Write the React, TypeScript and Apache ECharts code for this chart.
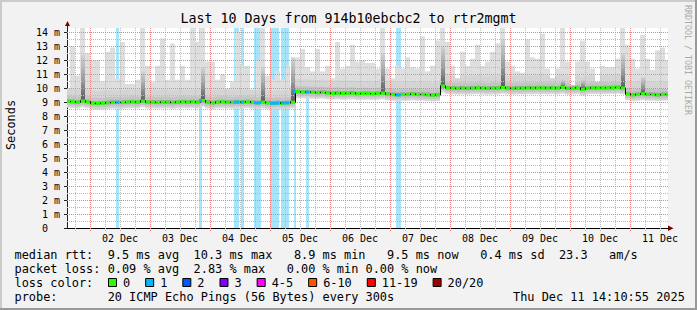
import React, { useEffect, useRef } from 'react';
import * as echarts from 'echarts';

// ---- time axis (hours since 01 Dec 00:00) ----
const START_HOUR = 14.8;
const END_HOUR = 255.2;
const FIRST_BUCKET_HOUR = 14;
const BUCKET_HOURS = 2;

// ---- median rtt per 2h bucket (ms) ----
const medianMs = [
  9.05, 9.03, 9.0, 9.08, 9.02, 8.92, 8.9, 8.92, 8.96, 8.98,
  8.98, 8.98, 9.0, 9.02, 9.0, 9.08, 9.0, 9.0, 8.98, 9.0,
  9.0, 8.97, 9.0, 9.02, 9.0, 9.02, 9.0, 9.12, 9.0, 8.95,
  9.0, 9.02, 9.0, 8.98, 9.0, 9.0, 9.02, 8.98, 8.95, 9.0,
  8.95, 8.92, 8.95, 8.92, 8.95, 9.0, 9.75, 9.72, 9.72, 9.7,
  9.68, 9.7, 9.66, 9.62, 9.65, 9.62, 9.63, 9.65, 9.6, 9.62,
  9.62, 9.6, 9.62, 9.65, 9.58, 9.55, 9.52, 9.55, 9.55, 9.58,
  9.55, 9.55, 9.53, 9.5, 9.52, 10.15, 10.02, 10.0, 9.98, 10.0,
  9.98, 10.0, 10.02, 10.0, 9.98, 10.0, 10.0, 10.05, 10.0, 9.98,
  10.0, 10.0, 10.02, 10.0, 10.02, 10.02, 10.0, 10.02, 10.0, 10.05,
  9.98, 10.0, 10.02, 9.92, 10.0, 10.02, 10.02, 10.02, 10.02, 10.03,
  10.05, 10.0, 9.58, 9.52, 9.55, 9.6, 9.55, 9.55, 9.52, 9.55,
  9.55,
];

// ---- top of the smoke (slowest ping) per bucket (ms) ----
const smokeTopMs = [
  10.0, 13.0, 10.9, 14.3, 12.5, 12.0, 12.0, 10.5, 12.6, 12.9,
  10.7, 13.3, 10.3, 10.3, 10.6, 14.3, 11.6, 10.45, 11.6, 13.55,
  10.6, 13.2, 10.6, 11.6, 10.6, 14.3, 13.3, 14.3, 11.9, 11.9,
  10.6, 11.0, 10.0, 10.5, 14.0, 11.6, 11.6, 9.9, 12.0, 14.3,
  10.9, 10.6, 11.2, 10.6, 11.6, 10.2, 12.2, 12.8, 11.5, 11.2,
  12.8, 11.2, 11.6, 10.7, 13.3, 11.4, 11.6, 13.1, 11.9, 12.0,
  11.8, 11.8, 11.4, 14.3, 11.4, 10.7, 11.6, 11.4, 12.2, 11.5,
  11.4, 13.7, 11.2, 11.6, 13.4, 14.3, 13.3, 11.6, 10.7, 12.6,
  11.6, 12.1, 13.1, 11.6, 11.9, 12.6, 13.2, 14.3, 11.9, 11.6,
  11.2, 11.1, 13.5, 12.2, 12.1, 13.9, 11.4, 10.7, 11.4, 14.3,
  11.9, 10.2, 11.9, 13.4, 11.9, 11.4, 10.45, 11.6, 11.5, 11.5,
  12.1, 14.3, 13.1, 12.1, 11.4, 13.8, 12.1, 11.3, 12.7, 12.9,
  12.0,
];

// ---- dense (dark) smoke bursts ----
const spikeBucket = [3, 15, 27, 39, 45, 63, 75, 87, 99, 103, 111, 115];
const spikeTopMs = [12.4, 11.2, 11.5, 11.5, 12.2, 12.5, 13.0, 13.5, 10.6, 10.6, 12.5, 10.8];

// ---- packet loss periods ----
const lossStartHour = [34.4, 67.6, 81.6, 84.4, 89.6, 96.0, 100.4, 105.6, 110.4, 146.4];
const lossEndHour = [35.6, 68.6, 83.6, 85.6, 92.4, 99.6, 103.6, 106.4, 111.6, 148.4];
const lossTopMs = [14.3, 14.3, 14.3, 14.3, 14.3, 14.3, 14.3, 9.8, 9.8, 14.3];
const lossPings = [1, 1, 1, 1, 1, 1, 1, 1, 1, 1];

// ---- axis labels ----
const dayLabels = ['02 Dec', '03 Dec', '04 Dec', '05 Dec', '06 Dec', '07 Dec', '08 Dec', '09 Dec', '10 Dec', '11 Dec'];
const dayLabelHours = [36, 60, 84, 108, 132, 156, 180, 204, 228, 252];
const yTickValues = [0, 1, 2, 3, 4, 5, 6, 7, 8, 9, 10, 11, 12, 13, 14];
const Y_MAX = 14.3;

// ---- legend ----
const lossColorLabels = ['0', '1', '2', '3', '4-5', '6-10', '11-19', '20/20'];
const lossColors = ['#26ff00', '#00b8ff', '#0059ff', '#7e00ff', '#ff00ff', '#ff5500', '#ff0000', '#a10000'];
const statLines = [
  'median rtt:  9.5 ms avg  10.3 ms max   8.9 ms min   9.5 ms now   0.4 ms sd  23.3   am/s',
  'packet loss: 0.09 % avg  2.83 % max   0.00 % min 0.00 % now',
  'loss color:',
  'probe:       20 ICMP Echo Pings (56 Bytes) every 300s',
];
const titleText = 'Last 10 Days from 914b10ebcbc2 to rtr2mgmt';
const dateText = 'Thu Dec 11 14:10:55 2025';

const MONO = '"DejaVu Sans Mono", monospace';
const LEG_FS = 11.9;
const CW = LEG_FS * 0.602;
const LEG_X0 = 14.5;
const LINE_Y = [254.5, 268.6, 282.7, 296.8];

function buildOption() {
  const bStart = (i: number) => FIRST_BUCKET_HOUR + i * BUCKET_HOURS;
  const smokeData = medianMs.map((m, i) => {
    const k = spikeBucket.indexOf(i);
    return [bStart(i), bStart(i) + BUCKET_HOURS, m, smokeTopMs[i], k >= 0 ? spikeTopMs[k] : 0];
  });
  const medianData = medianMs.map((m, i) => [bStart(i), bStart(i) + BUCKET_HOURS, m, i > 0 ? medianMs[i - 1] : m]);
  const lossData = lossStartHour.map((s, i) => {
    const mid = (s + lossEndHour[i]) / 2;
    const bi = Math.floor((mid - FIRST_BUCKET_HOUR) / BUCKET_HOURS);
    return [s, lossEndHour[i], lossTopMs[i], medianMs[bi], lossPings[i]];
  });
  const vGrid: number[][] = [];
  for (let h = 18; h <= 252; h += 6) vGrid.push([h, h % 24 === 0 ? 1 : 0]);
  const hGrid: number[][] = [];
  for (let v = 0.5; v <= 14; v += 0.5) hGrid.push([v, Number.isInteger(v) ? 1 : 0]);

  const crisp = (v: number) => Math.round(v) + 0.5;

  const graphic: any[] = [];
  // frame
  graphic.push({ type: 'rect', shape: { x: 0, y: 0, width: 697, height: 2 }, style: { fill: '#cbcbcb' }, silent: true });
  graphic.push({ type: 'rect', shape: { x: 0, y: 0, width: 2, height: 310 }, style: { fill: '#cbcbcb' }, silent: true });
  graphic.push({ type: 'rect', shape: { x: 0, y: 308, width: 697, height: 2 }, style: { fill: '#999999' }, silent: true });
  graphic.push({ type: 'rect', shape: { x: 695, y: 0, width: 2, height: 310 }, style: { fill: '#999999' }, silent: true });
  // arrows
  graphic.push({ type: 'line', shape: { x1: 67.5, y1: 29, x2: 67.5, y2: 24 }, style: { stroke: '#202020', lineWidth: 1 }, silent: true });
  graphic.push({ type: 'polygon', shape: { points: [[65, 26], [70, 26], [67.5, 21]] }, style: { fill: '#800000' }, silent: true });
  graphic.push({ type: 'polygon', shape: { points: [[668, 225.5], [668, 231], [673.5, 228.3]] }, style: { fill: '#800000' }, silent: true });
  // title
  graphic.push({ type: 'text', x: 348.5, y: 18.5, style: { text: titleText, fontFamily: MONO, fontSize: 13.3, fill: '#000', align: 'center', verticalAlign: 'middle' } });
  // y name
  graphic.push({ type: 'text', x: 11, y: 125, rotation: Math.PI / 2, style: { text: 'Seconds', fontFamily: MONO, fontSize: 11.9, fill: '#000', align: 'center', verticalAlign: 'middle' } });
  // watermark
  graphic.push({ type: 'text', x: 687.5, y: 60, rotation: -Math.PI / 2, style: { text: 'RRDTOOL / TOBI OETIKER', fontFamily: MONO, fontSize: 8.3, fill: '#a9a9a9', align: 'center', verticalAlign: 'middle' } });
  // legend lines, token by token in monospace columns
  statLines.forEach((line, li) => {
    const re = /\S+/g;
    let m: RegExpExecArray | null;
    while ((m = re.exec(line))) {
      graphic.push({ type: 'text', x: LEG_X0 + m.index * CW, y: LINE_Y[li], style: { text: m[0], fontFamily: MONO, fontSize: LEG_FS, fill: '#000', align: 'left', verticalAlign: 'middle' } });
    }
  });
  // loss colour boxes
  let bx = 108;
  lossColorLabels.forEach((lab, i) => {
    graphic.push({ type: 'rect', shape: { x: bx + 0.5, y: 278.5, width: 8, height: 8 }, style: { fill: lossColors[i], stroke: '#000', lineWidth: 1 } });
    graphic.push({ type: 'text', x: bx + 15, y: LINE_Y[2], style: { text: lab, fontFamily: MONO, fontSize: LEG_FS, fill: '#000', align: 'left', verticalAlign: 'middle' } });
    bx += 15 + lab.length * CW + 15;
  });
  graphic.push({ type: 'text', x: 513, y: LINE_Y[3], style: { text: dateText, fontFamily: MONO, fontSize: LEG_FS, fill: '#000', align: 'left', verticalAlign: 'middle' } });

  const smokeGradient = new echarts.graphic.LinearGradient(0, 0, 0, 1, [
    { offset: 0, color: '#d4d4d4' },
    { offset: 0.55, color: '#9a9a9a' },
    { offset: 1, color: '#5a5a5a' },
  ]);

  return {
    animation: false,
    backgroundColor: '#f2f2f2',
    grid: { left: 67, right: 29, top: 28, bottom: 82, show: true, backgroundColor: '#ffffff', borderWidth: 0 },
    xAxis: {
      type: 'value',
      min: START_HOUR,
      max: END_HOUR,
      axisLine: { show: true, lineStyle: { color: '#000', width: 1 } },
      axisTick: { show: false },
      splitLine: { show: false },
      axisLabel: {
        customValues: dayLabelHours,
        formatter: (v: number) => dayLabels[dayLabelHours.indexOf(Math.round(v))] ?? '',
        fontFamily: MONO,
        fontSize: 10,
        color: '#000',
        margin: 5,
      },
    },
    yAxis: {
      type: 'value',
      min: 0,
      max: Y_MAX,
      axisLine: { show: true, lineStyle: { color: '#202020', width: 1 } },
      axisTick: { show: true, customValues: yTickValues, length: 3, lineStyle: { color: '#202020' } },
      splitLine: { show: false },
      axisLabel: {
        customValues: yTickValues,
        formatter: (v: number) => (v === 0 ? '{z|0}' : `${v} m`),
        rich: { z: { fontFamily: MONO, fontSize: 10, color: '#000', padding: [0, 12, 0, 0] } },
        fontFamily: MONO,
        fontSize: 10,
        color: '#000',
        margin: 7,
      },
    },
    graphic,
    series: [
      {
        type: 'custom',
        name: 'loss',
        z: 1,
        clip: true,
        encode: { x: [0, 1], y: [2] },
        data: lossData,
        renderItem: (_p: any, api: any) => {
          const a = api.coord([api.value(0), api.value(2)]);
          const b = api.coord([api.value(1), 0]);
          return { type: 'rect', shape: { x: Math.round(a[0]), y: a[1], width: Math.round(b[0]) - Math.round(a[0]), height: b[1] - a[1] }, style: { fill: '#a6e4fb' } };
        },
      },
      {
        type: 'custom',
        name: 'smoke',
        z: 2,
        clip: true,
        encode: { x: [0, 1], y: [2, 3] },
        data: smokeData,
        renderItem: (_p: any, api: any) => {
          const x0 = api.value(0), x1 = api.value(1), med = api.value(2), hi = api.value(3), dk = api.value(4);
          const r = (lo: number, top: number, fill: any) => {
            const a = api.coord([x0, top]);
            const b = api.coord([x1, lo]);
            const xa = Math.round(a[0]);
            const xb = Math.round(b[0]);
            return { type: 'rect', shape: { x: xa, y: a[1], width: xb - xa, height: b[1] - a[1] }, style: { fill } };
          };
          const children: any[] = [
            r(med - 0.45, hi, '#dedede'),
            r(med - 0.4, Math.min(hi, med + 0.9), '#d4d4d4'),
            r(med - 0.28, Math.min(hi, med + 0.4), '#c4c4c4'),
            r(med - 0.12, med + 0.15, '#a0a0a0'),
          ];
          if (dk > 0) {
            const a = api.coord([x0, dk]);
            const b = api.coord([x1, med]);
            const xa = Math.round(a[0]) + 1;
            const xb = Math.round(b[0]);
            children.push({ type: 'rect', shape: { x: xa, y: a[1], width: xb - xa, height: b[1] - a[1] }, style: { fill: smokeGradient } });
          }
          return { type: 'group', children };
        },
      },
      {
        type: 'custom',
        name: 'vgrid',
        z: 3,
        clip: false,
        encode: { x: 0, y: 1 },
        data: vGrid,
        renderItem: (_p: any, api: any) => {
          const a = api.coord([api.value(0), 0]);
          const b = api.coord([api.value(0), Y_MAX]);
          const x = crisp(a[0] - 0.5);
          return { type: 'line', shape: { x1: x, y1: a[1] + 3, x2: x, y2: b[1] }, style: { stroke: api.value(1) ? '#ee8080' : '#bdbdbd', lineWidth: 1, lineDash: [1, 1] } };
        },
      },
      {
        type: 'custom',
        name: 'hgrid',
        z: 3,
        clip: true,
        encode: { x: 1, y: 0 },
        data: hGrid,
        renderItem: (_p: any, api: any) => {
          const a = api.coord([START_HOUR, api.value(0)]);
          const b = api.coord([END_HOUR, api.value(0)]);
          const y = crisp(a[1] - 0.5);
          return { type: 'line', shape: { x1: a[0], y1: y, x2: b[0], y2: y }, style: { stroke: api.value(1) ? '#ee8080' : '#bdbdbd', lineWidth: 1, lineDash: [1, 1] } };
        },
      },
      {
        type: 'custom',
        name: 'median',
        z: 4,
        clip: true,
        encode: { x: [0, 1], y: [2] },
        data: medianData,
        renderItem: (_p: any, api: any) => {
          const x0 = api.value(0), x1 = api.value(1), med = api.value(2), prev = api.value(3);
          const a = api.coord([x0, med]);
          const b = api.coord([x1, med]);
          const p = api.coord([x0, prev]);
          const xa = Math.round(a[0]);
          const xb = Math.round(b[0]);
          return {
            type: 'group',
            children: [
              { type: 'rect', shape: { x: xa, y: a[1] - 1.5, width: xb - xa, height: 3 }, style: { fill: lossColors[0] } },
              { type: 'line', shape: { x1: xa + 0.5, y1: Math.min(p[1], a[1]) - 0.5, x2: xa + 0.5, y2: Math.max(p[1], a[1]) + 0.5 }, style: { stroke: '#000', lineWidth: 1 } },
            ],
          };
        },
      },
      {
        type: 'custom',
        name: 'lossMedian',
        z: 5,
        clip: true,
        encode: { x: [0, 1], y: [3] },
        data: lossData,
        renderItem: (_p: any, api: any) => {
          const a = api.coord([api.value(0), api.value(3)]);
          const b = api.coord([api.value(1), api.value(3)]);
          const xa = Math.round(a[0]);
          return { type: 'rect', shape: { x: xa, y: a[1] - 1.5, width: Math.round(b[0]) - xa, height: 3 }, style: { fill: lossColors[api.value(4)] } };
        },
      },
    ],
  };
}

export default function App() {
  const ref = useRef<HTMLDivElement>(null);
  useEffect(() => {
    const chart = echarts.init(ref.current!, null, { renderer: 'svg' });
    chart.setOption(buildOption() as any);
    return () => chart.dispose();
  }, []);
  return <div ref={ref} style={{ position: 'absolute', left: 0, top: 0, width: 697, height: 310 }} />;
}
